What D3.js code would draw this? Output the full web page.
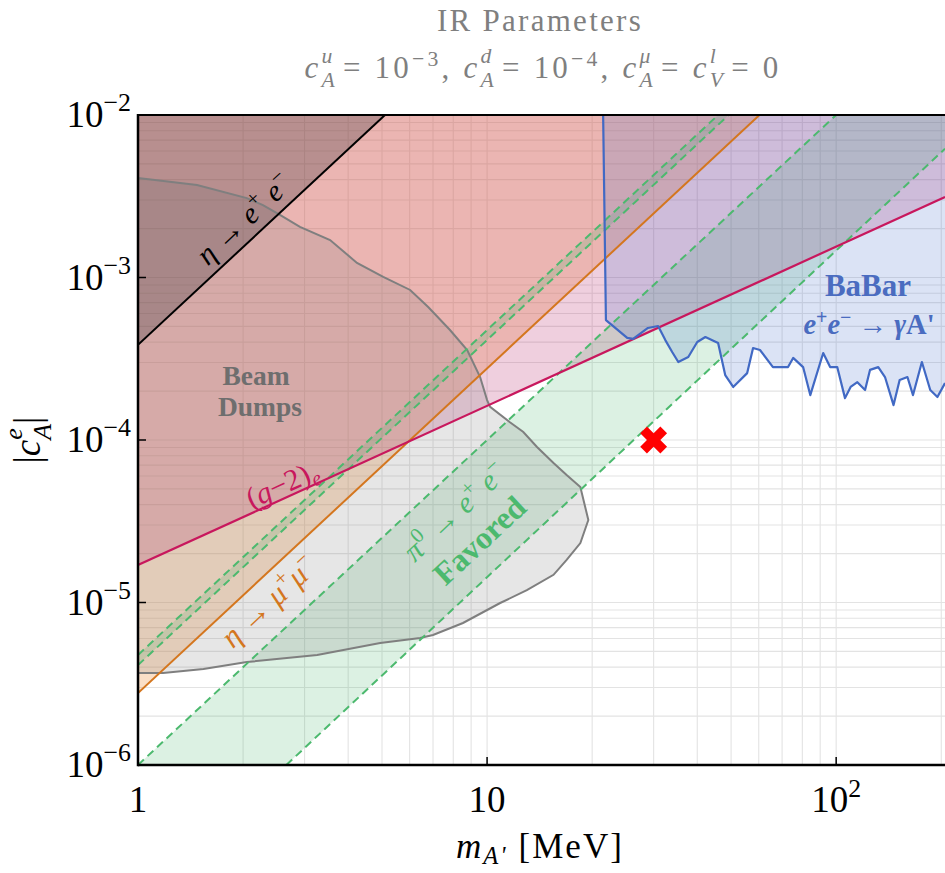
<!DOCTYPE html>
<html>
<head>
<meta charset="utf-8">
<script src="https://cdn.jsdelivr.net/npm/d3@7"></script>
<style>
  body { margin: 0; background: #fff; }
  svg { display: block; }
</style>
</head>
<body>
<svg id="chart" width="945" height="873"></svg>
<script>
// ---- axis extents and ticks ----
const massRange = [1, 205];          // m_A' [MeV]
const couplingRange = [1e-6, 1e-2];  // |c_A^e|
const xTickValues = [1, 10, 100];
const xTickBases = ["1", "10", "10"];
const xTickExps = ["", "", "2"];
const yTickValues = [1e-6, 1e-5, 1e-4, 1e-3, 1e-2];
const yTickExps = ["−6", "−5", "−4", "−3", "−2"];

// ---- bounds: [mass, coupling] ----
const etaToEE = [[1, 3.85e-4], [5.1, 1e-2]];
const etaToMuMu = [[1, 2.77e-6], [60.3, 1e-2]];
const gMinus2e = [[1, 1.7e-5], [205, 3.13e-3]];
const pi0NarrowUpper = [[1, 4.75e-6], [45.9, 1e-2]];
const pi0NarrowLower = [[1, 4.12e-6], [49.2, 1e-2]];
const pi0FavoredUpper = [[1, 1e-6], [100, 1e-2]];
const pi0FavoredLower = [[2.66, 1e-6], [205, 6.2e-3]];

const babarLimit = [
  [21.5, 1e-2], [21.9, 5.47e-4], [25.2, 4.25e-4], [26.2, 4.19e-4], [28.9, 4.89e-4],
  [30.9, 5.03e-4], [32.4, 4.12e-4], [33.9, 3.48e-4], [35.3, 3.02e-4], [37.7, 3.24e-4],
  [40.0, 4.01e-4], [42.2, 4.30e-4], [45.9, 3.95e-4], [48.1, 2.51e-4], [50.7, 2.12e-4],
  [55.6, 2.58e-4], [57.8, 3.68e-4], [60.5, 3.58e-4], [65.9, 2.81e-4], [72.8, 2.81e-4],
  [75.3, 3.20e-4], [80.4, 2.81e-4], [84.3, 1.89e-4], [91.8, 3.43e-4], [96.1, 2.81e-4],
  [100.7, 2.81e-4], [106, 1.81e-4], [110, 2.12e-4], [115, 2.27e-4], [121, 2.03e-4],
  [125, 2.70e-4], [132, 2.81e-4], [138, 2.44e-4], [146, 1.64e-4], [152, 2.34e-4],
  [160, 2.44e-4], [166, 1.89e-4], [176, 3.02e-4], [186, 2.03e-4], [195, 1.84e-4],
  [205, 2.24e-4]
];

const beamDumps = [
  [1, 4.09e-3], [1.476, 3.71e-3], [2.05, 3.08e-3], [2.28, 2.79e-3], [2.55, 2.43e-3],
  [2.91, 2.05e-3], [3.55, 1.70e-3], [4.24, 1.23e-3], [5.04, 1.01e-3], [6.02, 8.38e-4],
  [6.78, 6.58e-4], [7.83, 4.75e-4], [8.77, 3.58e-4], [9.55, 2.44e-4], [10.0, 1.76e-4],
  [10.2, 1.60e-4], [11.6, 1.29e-4], [12.7, 1.12e-4], [13.9, 9.06e-5], [15.5, 7.22e-5],
  [16.9, 6.09e-5], [18.5, 5.14e-5], [19.5, 3.22e-5], [18.5, 2.32e-5], [16.9, 1.83e-5],
  [15.5, 1.48e-5], [13.0, 1.19e-5], [10.9, 9.93e-6], [8.53, 7.48e-6], [7.0, 6.31e-6],
  [6.43, 6.05e-6], [4.94, 5.64e-6], [3.26, 4.75e-6], [2.05, 4.30e-6], [1.54, 3.90e-6],
  [1.18, 3.68e-6], [1, 3.68e-6]
];

const benchmarkPoint = [30, 1e-4];

// ---- layout ----
const svg = d3.select("#chart");
const plot = { left: 138, right: 945, top: 115, bottom: 765 };
const FONT = "'Liberation Serif', 'Times New Roman', serif";

const x = d3.scaleLog().domain(massRange).range([plot.left, plot.right]);
const y = d3.scaleLog().domain(couplingRange).range([plot.bottom, plot.top]);

const [mLo, mHi] = massRange;
const [cLo, cHi] = couplingRange;

svg.append("defs").append("clipPath").attr("id", "plotClip")
  .append("rect")
  .attr("x", plot.left).attr("y", plot.top)
  .attr("width", plot.right - plot.left).attr("height", plot.bottom - plot.top);

const area = svg.append("g").attr("clip-path", "url(#plotClip)");

// grid (major + minor decades)
const grid = area.append("g").attr("stroke", "#e3e3e3").attr("stroke-width", 1.1);
grid.selectAll("line.vx").data(x.ticks()).join("line")
  .attr("x1", d => x(d)).attr("x2", d => x(d))
  .attr("y1", plot.top).attr("y2", plot.bottom);
grid.selectAll("line.hy").data(y.ticks()).join("line")
  .attr("y1", d => y(d)).attr("y2", d => y(d))
  .attr("x1", plot.left).attr("x2", plot.right);

const line = d3.line().x(d => x(d[0])).y(d => y(d[1]));
const poly = pts => line(pts) + "Z";

// excluded / favoured regions
area.append("path").attr("d", poly([...etaToMuMu, [mLo, cHi]]))
  .attr("fill", "rgba(240,150,70,0.30)");
area.append("path").attr("d", poly([...gMinus2e, [mHi, cHi], [mLo, cHi]]))
  .attr("fill", "rgba(180,30,100,0.21)");
area.append("path").attr("d", poly([...pi0FavoredUpper, [mHi, cHi], ...pi0FavoredLower.slice().reverse()]))
  .attr("fill", "rgba(60,180,100,0.18)");
area.append("path").attr("d", poly([...pi0NarrowUpper, ...pi0NarrowLower.slice().reverse()]))
  .attr("fill", "rgba(60,180,100,0.18)");
area.append("path").attr("d", poly([...babarLimit, [mHi, cHi]]))
  .attr("fill", "rgba(65,105,200,0.19)");
area.append("path").attr("d", poly(beamDumps))
  .attr("fill", "rgba(128,128,128,0.20)");
area.append("path").attr("d", poly([...etaToEE, [mLo, cHi]]))
  .attr("fill", "rgba(30,30,40,0.25)");

// boundary curves
area.append("path").attr("d", poly(beamDumps))
  .attr("fill", "none").attr("stroke", "#7f7f7f").attr("stroke-width", 2);
[pi0NarrowUpper, pi0NarrowLower, pi0FavoredUpper, pi0FavoredLower].forEach(pts => {
  area.append("path").attr("d", line(pts))
    .attr("fill", "none").attr("stroke", "#4cb96e").attr("stroke-width", 2)
    .attr("stroke-dasharray", "8,5");
});
area.append("path").attr("d", line(etaToMuMu))
  .attr("fill", "none").attr("stroke", "#d4761e").attr("stroke-width", 2);
area.append("path").attr("d", line(gMinus2e))
  .attr("fill", "none").attr("stroke", "#c8175d").attr("stroke-width", 2.2);
area.append("path").attr("d", line(babarLimit))
  .attr("fill", "none").attr("stroke", "#4169c4").attr("stroke-width", 2.2)
  .attr("stroke-linejoin", "round");
area.append("path").attr("d", line(etaToEE))
  .attr("fill", "none").attr("stroke", "#000").attr("stroke-width", 2);

// benchmark point
area.append("path")
  .attr("d", d3.symbol(d3.symbolCross, 450)())
  .attr("transform", `translate(${x(benchmarkPoint[0])},${y(benchmarkPoint[1])}) rotate(45)`)
  .attr("fill", "#ff0000");

// ---- text helper: one <text> built from rows of runs with super/subscripts ----
function richText(parent, tokens, o) {
  const g = parent.append("g")
    .attr("transform", `translate(${o.x},${o.y}) rotate(${o.rotate || 0})`);
  const styleOf = (sel, px, italic, weight) => sel
    .attr("font-family", o.family || FONT)
    .attr("font-size", px)
    .attr("font-style", italic ? "italic" : "normal")
    .attr("font-weight", weight || o.weight || "normal");
  const measure = (str, px, italic, weight) => {
    const t = styleOf(g.append("text"), px, italic, weight).style("white-space", "pre").text(str);
    const w = t.node().getComputedTextLength();
    t.remove();
    return w;
  };
  const layout = (toks, size, spacing) => {
    const pieces = [];
    let cx = 0, chars = 0;
    const place = (str, px, dy, italic, weight) => {
      const n = [...str].length;
      const w = measure(str, px, italic, weight) + spacing * n;
      pieces.push({ str, px, dy, italic, weight, x: cx });
      chars += n;
      return w;
    };
    toks.forEach(tk => {
      if (tk.sup !== undefined || tk.sub !== undefined) {
        const stacked = tk.sup && tk.sub;
        const start = cx;
        let w = 0;
        if (tk.sup) {
          cx = start;
          w = Math.max(w, place(tk.sup, size * 0.7, -size * (tk.up || (stacked ? 0.5 : 0.4)), tk.si, tk.w));
        }
        if (tk.sub) {
          cx = start;
          w = Math.max(w, place(tk.sub, size * 0.7, size * (tk.down || (stacked ? 0.3 : 0.2)), tk.bi, tk.w));
        }
        cx = start + w + (tk.gap || 0);
      } else {
        cx += place(tk.t, size * (tk.s || 1), 0, tk.i, tk.w) + (tk.gap || 0);
      }
    });
    return { pieces, width: cx, chars };
  };
  const rows = o.rows || [{ tokens, dx: 0, dy: 0 }];
  const text = g.append("text")
    .attr("fill", o.fill || "#000")
    .attr("font-family", o.family || FONT)
    .style("white-space", "pre");
  rows.forEach(row => {
    const size = row.size || o.size;
    let spacing = o.spacing || 0;
    let res = layout(row.tokens, size, spacing);
    if (o.fit) {
      const base = layout(row.tokens, size, 0);
      spacing = (o.fit - base.width) / base.chars;
      res = layout(row.tokens, size, spacing);
    }
    const shift = o.anchor === "start" ? 0 : o.anchor === "end" ? -res.width : -res.width / 2;
    res.pieces.forEach(p => {
      styleOf(text.append("tspan"), p.px, p.italic, p.weight || row.weight)
        .attr("x", p.x + shift + (row.dx || 0))
        .attr("y", p.dy + (o.vshift || 0) + (row.dy || 0))
        .attr("letter-spacing", spacing)
        .text(p.str);
    });
  });
  return g;
}

// ---- frame and ticks ----
const frame = svg.append("g").attr("stroke", "#000");
frame.append("line").attr("x1", plot.left).attr("x2", plot.right + 2)
  .attr("y1", plot.top).attr("y2", plot.top).attr("stroke-width", 2);
frame.append("line").attr("x1", plot.left).attr("x2", plot.right + 2)
  .attr("y1", plot.bottom).attr("y2", plot.bottom).attr("stroke-width", 2.5);
frame.append("line").attr("x1", plot.left).attr("x2", plot.left)
  .attr("y1", plot.top - 1).attr("y2", plot.bottom + 1.2).attr("stroke-width", 2.5);
frame.selectAll("line.xt").data(xTickValues).join("line")
  .attr("x1", d => x(d)).attr("x2", d => x(d))
  .attr("y1", plot.bottom).attr("y2", plot.bottom - 8).attr("stroke-width", 1.5);
frame.selectAll("line.yt").data(yTickValues).join("line")
  .attr("y1", d => y(d)).attr("y2", d => y(d))
  .attr("x1", plot.left).attr("x2", plot.left + 8).attr("stroke-width", 1.5);

xTickValues.forEach((v, i) => {
  const toks = [{ t: xTickBases[i] }];
  if (xTickExps[i]) toks.push({ sup: xTickExps[i] });
  richText(svg, toks, { x: x(v), y: 812, size: 37 });
});
yTickValues.forEach((v, i) => {
  richText(svg, [{ t: "10" }, { sup: yTickExps[i], up: 0.42 }],
    { x: 131, y: y(v) + 12, size: 37, anchor: "end" });
});

// axis titles
richText(svg, [{ t: "m", i: true }, { sub: "A'", bi: true, down: 0.16 }, { t: " [MeV]" }],
  { x: 540, y: 858, size: 35, fit: 168 });
richText(svg, [{ t: "|" }, { t: "c", i: true }, { sup: "e", sub: "A", si: true, bi: true }, { t: "|" }],
  { x: 40, y: 440, size: 37, rotate: -90 });

// title
richText(svg, [{ t: "IR Parameters" }],
  { x: 540, y: 31, size: 31, fill: "#7f7f7f", fit: 206 });
richText(svg, [
  { t: "c", i: true }, { sup: "u", sub: "A", si: true, bi: true, gap: 5 }, { t: "= 10" }, { sup: "−3" },
  { t: ", " }, { t: "c", i: true }, { sup: "d", sub: "A", si: true, bi: true, gap: 5 }, { t: "= 10" }, { sup: "−4" },
  { t: ", " }, { t: "c", i: true }, { sup: "μ", sub: "A", si: true, bi: true, gap: 5 }, { t: "= " },
  { t: "c", i: true }, { sup: "l", sub: "V", si: true, bi: true, gap: 5 }, { t: "= 0" }
], { x: 543, y: 78, size: 31, fill: "#7f7f7f", fit: 490 });

// in-plot labels, rotated to follow their bounds
const slope2Angle = -Math.atan2(y(1e-6) - y(1e-4), x(10) - x(1)) * 180 / Math.PI;
const gm2Angle = -Math.atan2(y(gMinus2e[0][1]) - y(gMinus2e[1][1]), x(gMinus2e[1][0]) - x(gMinus2e[0][0])) * 180 / Math.PI;

richText(svg, [{ t: "η", i: true }, { t: " → " }, { t: "e", i: true }, { sup: "+" }, { t: " " }, { t: "e", i: true }, { sup: "−" }],
  { x: 244, y: 219, size: 30, rotate: slope2Angle, vshift: 10, fill: "#000" });

richText(svg, null, {
  x: 256, y: 385, size: 27.5, weight: "bold", fill: "#6e6e6e",
  rows: [{ tokens: [{ t: "Beam" }], dy: 0 }, { tokens: [{ t: "Dumps" }], dx: 4, dy: 31 }]
});

richText(svg, [{ t: "(" }, { t: "g", i: true }, { t: "−2)" }, { sub: "e", bi: true }],
  { x: 283, y: 486, size: 30, rotate: gm2Angle, vshift: 8, fill: "#c8175d" });

richText(svg, [{ t: "η", i: true }, { t: " → " }, { t: "μ", i: true }, { sup: "+" }, { t: "μ", i: true }, { sup: "−" }],
  { x: 269, y: 602, size: 31, rotate: slope2Angle, vshift: 10, fill: "#d4761e" });

richText(svg, [{ t: "π", i: true }, { sup: "0" }, { t: " → " }, { t: "e", i: true }, { sup: "+" }, { t: " " }, { t: "e", i: true }, { sup: "−" }],
  { x: 455, y: 512, size: 30, rotate: slope2Angle, vshift: 10, fill: "#4cb96e" });
richText(svg, [{ t: "Favored" }],
  { x: 480, y: 541, size: 32, rotate: slope2Angle, vshift: 10, weight: "bold", fill: "#4cb96e" });

richText(svg, null, {
  x: 868, y: 296, size: 31, weight: "bold", fill: "#4a6cc0",
  rows: [
    { tokens: [{ t: "BaBar" }], dy: 0 },
    { tokens: [{ t: "e", i: true }, { sup: "+", up: 0.34 }, { t: "e", i: true }, { sup: "−", up: 0.34 }, { t: " → " }, { t: "γ", i: true }, { t: "A'" }],
      size: 28.5, dx: 1, dy: 38 }
  ]
});
</script>
</body>
</html>
